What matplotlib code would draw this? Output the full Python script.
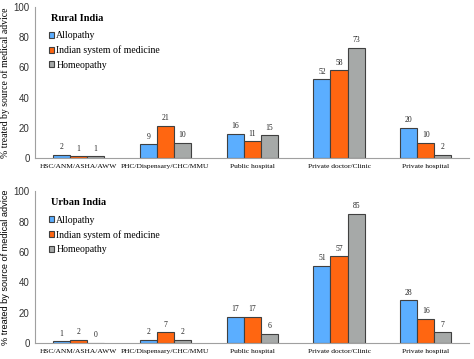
import matplotlib.pyplot as plt
import numpy as np

categories = ['HSC/ANM/ASHA/AWW', 'PHC/Dispensary/CHC/MMU', 'Public hospital',
              'Private doctor/Clinic', 'Private hospital']
series = ['Allopathy', 'Indian system of medicine', 'Homeopathy']
rural_allopathy = [2, 9, 16, 52, 20]
rural_ism = [1, 21, 11, 58, 10]
rural_homeo = [1, 10, 15, 73, 2]
urban_allopathy = [1, 2, 17, 51, 28]
urban_ism = [2, 7, 17, 57, 16]
urban_homeo = [0, 2, 6, 85, 7]

colors = ['#5BAEFF', '#FF6611', '#A6A9A8']
serif = 'Liberation Serif'
sans = 'Liberation Sans'

fig = plt.figure(figsize=(4.74, 3.59), dpi=100)
ax1 = fig.add_axes([0.074, 0.560, 0.916, 0.421])
ax2 = fig.add_axes([0.074, 0.0446, 0.916, 0.423])

x = np.arange(len(categories))
w = 0.196

def draw(ax, data, title, ylabel_family, ysize):
    for i, (vals, name) in enumerate(zip(data, series)):
        bars = ax.bar(x + (i - 1) * w, vals, w, color=colors[i], edgecolor='#404040',
                      linewidth=0.8, label=name)
        for b, v in zip(bars, vals):
            ax.text(b.get_x() + b.get_width() / 2, v + 2.5, str(v), ha='center', va='bottom',
                    fontsize=5.5, family=serif, color='#222222')
    ax.set_xlim(-0.5, len(categories) - 0.5)
    ax.set_ylim(0, 100)
    ax.set_yticks([0, 20, 40, 60, 80, 100])
    ax.set_xticks(x)
    ax.set_xticklabels(categories, fontsize=5.4, family=serif)
    ax.tick_params(axis='both', length=0, pad=4)
    ax.tick_params(axis='y', labelsize=7, labelcolor='#333333')
    for lbl in ax.get_yticklabels():
        lbl.set_family(sans)
    for s in ['top', 'right']:
        ax.spines[s].set_visible(False)
    ax.spines['left'].set_color('#A0A0A0')
    ax.spines['bottom'].set_color('#A0A0A0')
    ax.set_ylabel('% treated by source of medical advice', fontsize=ysize, family=ylabel_family)
    ax.yaxis.set_label_coords(-0.058, 0.5)
    ax.text(0.036, 0.955, title, transform=ax.transAxes, fontsize=7.5, family=serif,
            fontweight='bold', va='top')
    ax.legend(loc='upper left', bbox_to_anchor=(0.02, 0.87), frameon=False,
              prop={'family': serif, 'size': 7}, handlelength=0.6, handleheight=0.6,
              handletextpad=0.2, labelspacing=0.55, borderpad=0)

draw(ax1, [rural_allopathy, rural_ism, rural_homeo], 'Rural India', serif, 7)
draw(ax2, [urban_allopathy, urban_ism, urban_homeo], 'Urban India', sans, 6.6)

fig.savefig('out.png', dpi=100)
